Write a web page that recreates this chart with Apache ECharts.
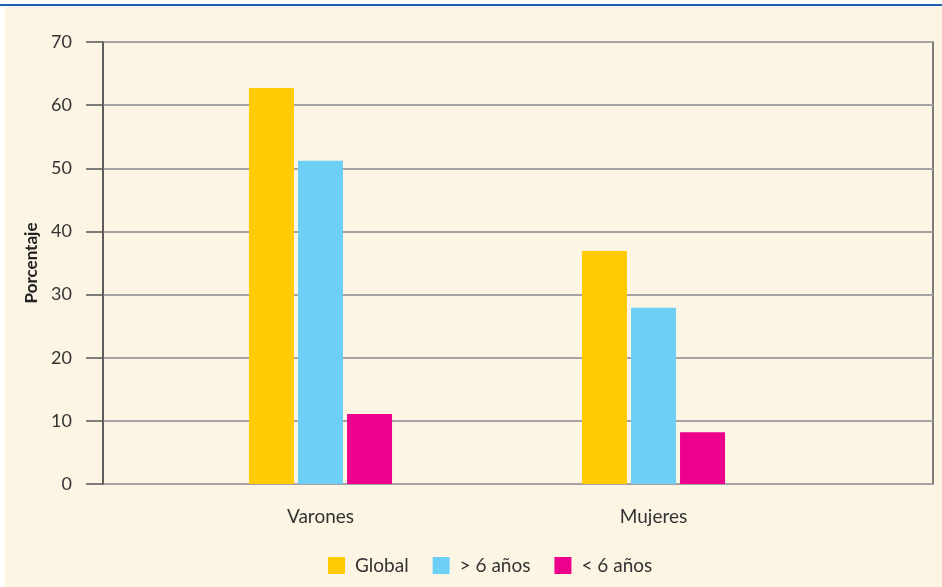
<!DOCTYPE html>
<html>
<head>
<meta charset="utf-8">
<script src="https://cdn.jsdelivr.net/npm/echarts@6/dist/echarts.min.js"></script>
<style>
  html, body { margin: 0; padding: 0; background: #fff; }
  #chart { width: 942px; height: 587px; }
</style>
</head>
<body>
<div id="chart"></div>
<script>
// datos
var categorias = ['Varones', 'Mujeres'];
var series = ['Global', '> 6 años', '< 6 años'];
var global = [62.7, 36.9];
var mayores6 = [51.2, 27.9];
var menores6 = [11.1, 8.2];
var colores = ['#ffcb05', '#6dcff6', '#ec008c'];

var myChart = echarts.init(document.getElementById('chart'));

var fuente = 'Lato, "Open Sans", sans-serif';

option = {
    backgroundColor: '#ffffff',
    textStyle: { fontFamily: fuente },
    graphic: [
        { type: 'rect', shape: { x: 0, y: 4, width: 942, height: 2 }, style: { fill: '#1d5fae' }, z: -10 },
        { type: 'rect', shape: { x: 5, y: 7, width: 937, height: 580 }, style: { fill: '#fdf5e4' }, z: -10 }
    ],
    legend: {
        data: series,
        left: 323,
        top: 551,
        itemWidth: 17,
        itemHeight: 17,
        itemGap: 24,
        icon: 'rect',
        textStyle: { fontSize: 19, color: '#333', fontFamily: fuente, padding: [0, 0, 0, 5] }
    },
    grid: [
        { left: 103, right: 9, top: 42, bottom: 103, show: true, borderColor: '#555', borderWidth: 1.5, backgroundColor: 'transparent' },
        { left: 154, right: 122, top: 42, bottom: 103 }
    ],
    xAxis: [
        { type: 'category', gridIndex: 0, data: [''], show: false },
        {
            type: 'category',
            gridIndex: 1,
            data: categorias,
            axisLine: { show: false },
            axisTick: { show: false },
            axisLabel: { fontSize: 19, color: '#333', margin: 23, fontFamily: fuente }
        }
    ],
    yAxis: [
        {
            type: 'value',
            gridIndex: 0,
            min: 0,
            max: 70,
            interval: 10,
            name: 'Porcentaje',
            nameLocation: 'middle',
            nameGap: 62,
            nameTextStyle: { fontSize: 17, fontWeight: 'bold', color: '#222', fontFamily: fuente },
            axisLine: { show: true, lineStyle: { color: '#555', width: 1.5 } },
            axisTick: { show: true, inside: false, length: 17, lineStyle: { color: '#555', width: 1.5 } },
            axisLabel: { fontSize: 18, color: '#333', margin: 31, fontFamily: fuente },
            splitLine: { lineStyle: { color: '#a3a3a3', width: 2 } }
        },
        { type: 'value', gridIndex: 1, min: 0, max: 70, show: false, splitLine: { show: false } }
    ],
    series: [
        { name: series[0], type: 'bar', xAxisIndex: 1, yAxisIndex: 1, data: global, barWidth: 45, barGap: '9%', itemStyle: { color: colores[0] } },
        { name: series[1], type: 'bar', xAxisIndex: 1, yAxisIndex: 1, data: mayores6, barWidth: 45, barGap: '9%', itemStyle: { color: colores[1] } },
        { name: series[2], type: 'bar', xAxisIndex: 1, yAxisIndex: 1, data: menores6, barWidth: 45, barGap: '9%', itemStyle: { color: colores[2] } }
    ]
};

myChart.setOption(option);
</script>
</body>
</html>
